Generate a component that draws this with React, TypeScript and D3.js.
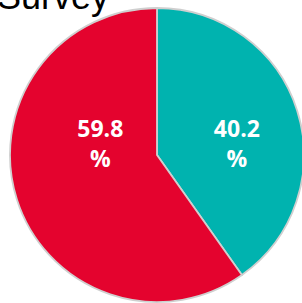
import React, { useEffect, useRef } from "react";
import * as d3 from "d3";

const categories = ["Yes", "No"];
const values = [40.2, 59.8];
const colors = ["#00B3AF", "#E4032E"];
const title = "Survey";

const W = 302;
const H = 303;

export default function App() {
  const ref = useRef<SVGSVGElement>(null);

  useEffect(() => {
    const svg = d3.select(ref.current);
    svg.selectAll("*").remove();

    const cx = 157;
    const cy = 155;
    const R = 147;

    const data = categories.map((c, i) => ({ name: c, value: values[i] }));
    const pie = d3.pie<any>().value(d => d.value).sort(null);
    const arc = d3.arc<any>().innerRadius(0).outerRadius(R);
    const arcs = pie(data);

    // title sits mostly above the visible area, as in the source image
    svg
      .append("text")
      .attr("x", -3)
      .attr("y", 9)
      .style("font-family", "'Liberation Sans', Arial, sans-serif")
      .style("font-size", "36px")
      .style("fill", "#000")
      .text(title);

    const g = svg.append("g").attr("transform", `translate(${cx},${cy})`);

    g.selectAll("path.slice")
      .data(arcs)
      .enter()
      .append("path")
      .attr("class", "slice")
      .attr("d", arc)
      .attr("fill", (d, i) => colors[i])
      .attr("stroke", "#cfcfcf")
      .attr("stroke-width", 1.8);

    // label radius (fraction of R) per slice, like the spreadsheet's best fit
    const labelR = [0.57, 0.405];
    arcs.forEach((d, i) => {
      const la = d3.arc<any>().innerRadius(R * labelR[i]).outerRadius(R * labelR[i]);
      const [x] = la.centroid(d);
      const t = g
        .append("text")
        .attr("text-anchor", "middle")
        .style("font-family", "'Open Sans', sans-serif")
        .style("font-weight", "bold")
        .style("font-size", "23px")
        .style("fill", "#fff");
      t.append("tspan").attr("x", x).attr("y", -18).text(d3.format(".1f")(d.data.value));
      t.append("tspan").attr("x", x).attr("y", 12).text("%");
    });
  }, []);

  return (
    <svg
      ref={ref}
      width={W}
      height={H}
      style={{ position: "absolute", left: 0, top: 0, background: "#fff" }}
    />
  );
}
